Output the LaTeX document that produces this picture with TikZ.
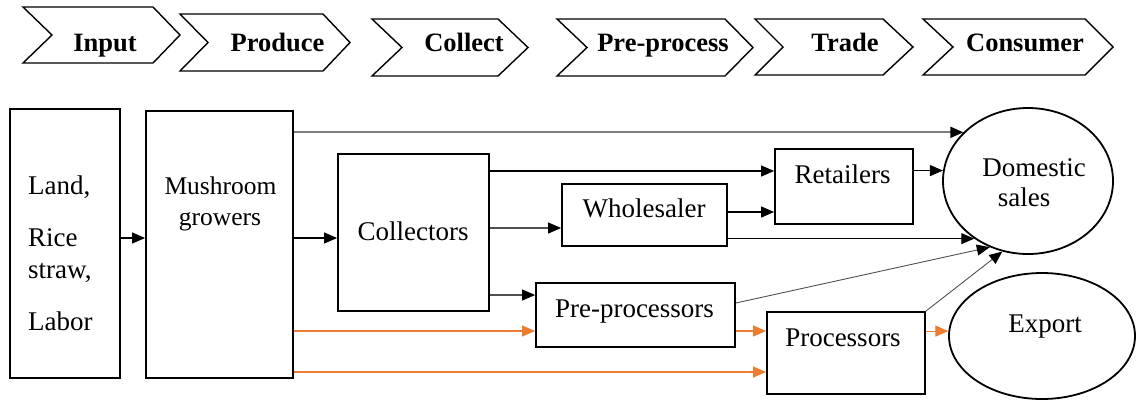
\documentclass[tikz,border=0pt]{standalone}
\usepackage{fontspec}
\setmainfont{Liberation Serif}
\usetikzlibrary{arrows.meta,shapes.geometric}
\definecolor{myorange}{HTML}{ED7D31}
\definecolor{mygray}{HTML}{7F7F7F}
\definecolor{dgray}{HTML}{505050}
\newcommand\mychev[6]{\draw[chev] (#1,#5) -- (#3,#5) -- (#4,{(#5+#6)/2}) -- (#3,#6) -- (#1,#6) -- (#2,{(#5+#6)/2}) -- cycle;}
\begin{document}
\begin{tikzpicture}[x=1pt,y=-1pt,
  box/.style={draw, line width=1.8pt, rectangle, inner sep=0pt},
  ell/.style={draw, line width=1.8pt, ellipse, inner sep=0pt},
  txt/.style={inner sep=0pt, anchor=base, font=\fontsize{27}{30}\selectfont},
  mtxt/.style={inner sep=0pt, anchor=base, font=\fontsize{25.5}{30}\selectfont},
  hd/.style={inner sep=0pt, anchor=base, font=\fontsize{26.5}{30}\selectfont\bfseries},
  chev/.style={draw, line width=1.4pt, line join=miter},
  arr/.style={-{Triangle[length=13pt,width=11pt,color=black]}, line width=1.1pt},
  oarr/.style={-{Triangle[length=13pt,width=11pt]}, line width=1.1pt, myorange},
]
\useasboundingbox (0,0) rectangle (1137,402);
% header chevrons
\mychev{23}{52}{153}{180}{7}{63}
\mychev{180}{208}{323}{350}{14}{71}
\mychev{372}{402}{498}{528}{19}{76}
\mychev{557}{587}{725}{753}{19}{76}
\mychev{755}{783}{883}{913}{19}{75}
\mychev{923}{953}{1085}{1113}{19}{75}
\node[hd] (h1) at (105,51) {Input};
\node[hd] (h2) at (277.5,51) {Produce};
\node[hd] (h3) at (464,51) {Collect};
\node[hd] (h4) at (663,51) {Pre-process};
\node[hd] (h5) at (845,51) {Trade};
\node[hd] (h6) at (1025,51) {Consumer};
% boxes
\node[box, minimum width=110pt, minimum height=269pt] (land) at (65,243.5) {};
\node[box, minimum width=147pt, minimum height=267pt] (mush) at (219.5,244.5) {};
\node[box, minimum width=151pt, minimum height=157pt] (coll) at (413.5,232.5) {};
\node[box, minimum width=165pt, minimum height=62pt] (whole) at (644.5,215) {};
\node[box, minimum width=199pt, minimum height=64pt] (pre) at (635.5,315) {};
\node[box, minimum width=138pt, minimum height=75pt] (ret) at (844,186.5) {};
\node[box, minimum width=158pt, minimum height=82pt] (proc) at (846,353) {};
\node[ell, minimum width=170pt, minimum height=146pt] (dom) at (1028,181) {};
\node[ell, minimum width=186pt, minimum height=126pt] (exp) at (1042,336) {};
% texts
\node[txt, anchor=base west] (t1) at (28,194) {Land,};
\node[txt, anchor=base west] (t2) at (28,246) {Rice};
\node[txt, anchor=base west] (t3) at (28,278) {straw,};
\node[txt, anchor=base west] (t4) at (28,330) {Labor};
\node[mtxt] (t5) at (220.5,194) {Mushroom};
\node[mtxt] (t6) at (220,225) {growers};
\node[txt] (t7) at (413,240) {Collectors};
\node[txt] (t8) at (644,217) {Wholesaler};
\node[txt] (t9) at (634.5,317) {Pre-processors};
\node[txt] (t10) at (842.5,183) {Retailers};
\node[txt] (t11) at (1034,176) {Domestic};
\node[txt] (t12) at (1024,206) {sales};
\node[txt] (t13) at (843,346) {Processors};
\node[txt] (t14) at (1045,332) {Export};
% helper y levels
\coordinate (y171) at (0,171);
\coordinate (y212) at (0,212);
\coordinate (y228) at (0,228);
\coordinate (y238) at (0,238);
\coordinate (y295) at (0,295);
\coordinate (y303) at (0,303);
\coordinate (y331) at (0,331);
\coordinate (y372) at (0,372);
% connectors
\draw[arr] (land.east |- y238) -- (mush.west |- y238);
\draw[arr] (mush.east |- y238) -- (coll.west |- y238);
\draw[arr, mygray, line width=1.8pt] (mush.east |- dom.143) -- (dom.143);
\draw[arr] (coll.east |- y171) -- (ret.west |- y171);
\draw[arr, dgray] (coll.east |- y228) -- (whole.west |- y228);
\draw[arr, dgray] (coll.east |- y295) -- (pre.west |- y295);
\draw[arr] (whole.east |- y212) -- (ret.west |- y212);
\draw[arr] (ret.east |- dom.173) -- (dom.173);
\draw[arr] (whole.east |- dom.227) -- (dom.227);
\draw[arr, dgray, line width=0.9pt] (pre.east |- y303) -- (dom.240);
\draw[arr, dgray, line width=0.9pt] (proc.north east) -- (dom.250);
\draw[oarr] (mush.east |- y331) -- (pre.west |- y331);
\draw[oarr] (pre.east |- y331) -- (proc.west |- y331);
\draw[oarr] (mush.east |- y372) -- (proc.west |- y372);
\draw[oarr] (proc.east |- exp.177) -- (exp.177);
\end{tikzpicture}
\end{document}
